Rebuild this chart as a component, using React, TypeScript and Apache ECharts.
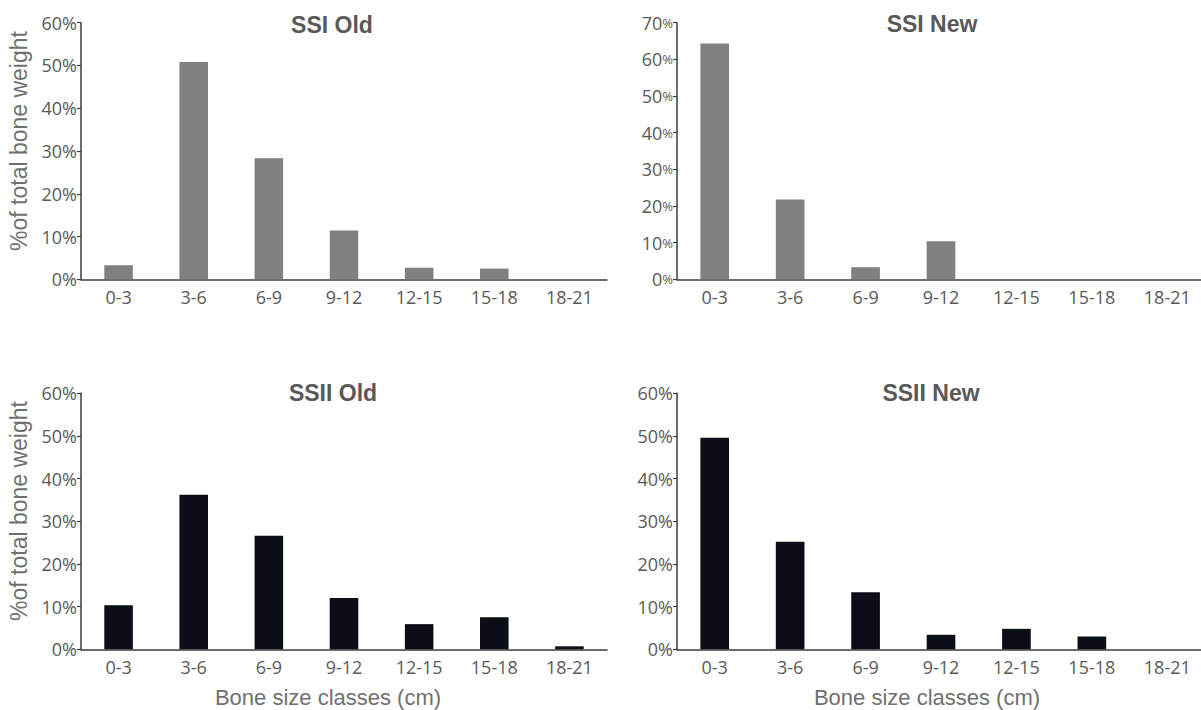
import React, { useEffect, useRef } from "react";
import * as echarts from "echarts";

// Bone size classes (cm)
const categories = ["0-3", "3-6", "6-9", "9-12", "12-15", "15-18", "18-21"];

// % of total bone weight per size class
const ssiOld = [3.3, 50.8, 28.3, 11.4, 2.7, 2.5, 0];
const ssiNew = [64.3, 21.8, 3.3, 10.4, 0, 0, 0];
const ssiiOld = [10.3, 36.2, 26.6, 12.0, 5.9, 7.5, 0.7];
const ssiiNew = [49.6, 25.2, 13.4, 3.4, 4.8, 3.0, 0];

const panelTitles = ["SSI Old", "SSI New", "SSII Old", "SSII New"];
const panelMax = [60, 70, 60, 60];
const panelData = [ssiOld, ssiNew, ssiiOld, ssiiNew];

const yAxisTitle = "%of total bone weight";
const xAxisTitle = "Bone size classes (cm)";

const TICK_FONT = "'Open Sans', sans-serif";
const TITLE_FONT = "'Liberation Sans', Arial, sans-serif";
const TEXT = "#595959";
const NAME = "#707070";
const AXIS = "#3c3c3c";

export default function App() {
  const ref = useRef<HTMLDivElement>(null);

  useEffect(() => {
    if (!ref.current) return;
    const chart = echarts.init(ref.current, null, { renderer: "svg" });

    // panel frames: left, top, width, height (px)
    const frames = [
      { left: 81, top: 22.7, width: 526, height: 256.6 },
      { left: 677, top: 22.7, width: 528, height: 256.6 },
      { left: 81, top: 393.3, width: 526, height: 256 },
      { left: 677, top: 393.3, width: 528, height: 256 },
    ];
    const barColors = ["#808080", "#808080", "#0b0e17", "#0b0e17"];

    const grid = frames.map((f) => ({
      ...f,
      containLabel: false,
      outerBoundsMode: "none",
    }));

    const xAxis = frames.map((_, i) => ({
      type: "category",
      gridIndex: i,
      data: categories,
      boundaryGap: true,
      axisLine: { show: true, lineStyle: { color: AXIS, width: 1.5 } },
      axisTick: { show: false },
      axisLabel: {
        margin: 9,
        color: TEXT,
        fontFamily: TICK_FONT,
        fontSize: 18,
        interval: 0,
      },
    }));

    const yAxis = frames.map((_, i) => ({
      type: "value",
      gridIndex: i,
      min: 0,
      max: panelMax[i],
      interval: 10,
      splitLine: { show: false },
      axisLine: { show: true, lineStyle: { color: AXIS, width: 1.5 } },
      axisTick: { show: true, length: 4, lineStyle: { color: AXIS, width: 1.2 } },
      axisLabel:
        i === 1
          ? {
              margin: 4,
              formatter: (v: number) => `{n|${v}}{p|%}`,
              rich: {
                n: { color: TEXT, fontFamily: TICK_FONT, fontSize: 18 },
                p: { color: TEXT, fontFamily: TICK_FONT, fontSize: 13 },
              },
            }
          : {
              margin: 4,
              color: TEXT,
              fontFamily: TICK_FONT,
              fontSize: 18,
              formatter: "{value}%",
            },
    }));

    const series = panelData.map((d, i) => ({
      type: "bar",
      xAxisIndex: i,
      yAxisIndex: i,
      data: d,
      barWidth: "38%",
      itemStyle: { color: barColors[i] },
      silent: true,
    }));

    const title = panelTitles.map((t, i) => ({
      text: t,
      left: [327, 927, 328, 926][i],
      top: [8, 7, 376, 376][i],
      textAlign: "center",
      textStyle: {
        color: TEXT,
        fontFamily: TITLE_FONT,
        fontWeight: "bold",
        fontSize: 23,
      },
    }));

    // axis titles: rotated y titles on the left column, x titles under the bottom row
    const nameFont = `23px ${TITLE_FONT}`;
    const graphic = [
      { x: 19, y: 141 },
      { x: 19, y: 511 },
    ].map((p) => ({
      type: "text",
      x: p.x,
      y: p.y,
      rotation: Math.PI / 2,
      silent: true,
      style: {
        text: yAxisTitle,
        font: nameFont,
        fill: NAME,
        textAlign: "center",
        textVerticalAlign: "middle",
      },
    }));
    [328, 927].forEach((cx) => {
      graphic.push({
        type: "text",
        x: cx,
        y: 697,
        rotation: 0,
        silent: true,
        style: {
          text: xAxisTitle,
          font: `22px ${TITLE_FONT}`,
          fill: NAME,
          textAlign: "center",
          textVerticalAlign: "middle",
        },
      } as any);
    });

    chart.setOption({
      animation: false,
      backgroundColor: "#ffffff",
      title,
      grid,
      xAxis,
      yAxis,
      series,
      graphic,
    } as any);

    return () => chart.dispose();
  }, []);

  return (
    <div
      ref={ref}
      style={{ position: "absolute", left: 0, top: 0, width: 1201, height: 710 }}
    />
  );
}
